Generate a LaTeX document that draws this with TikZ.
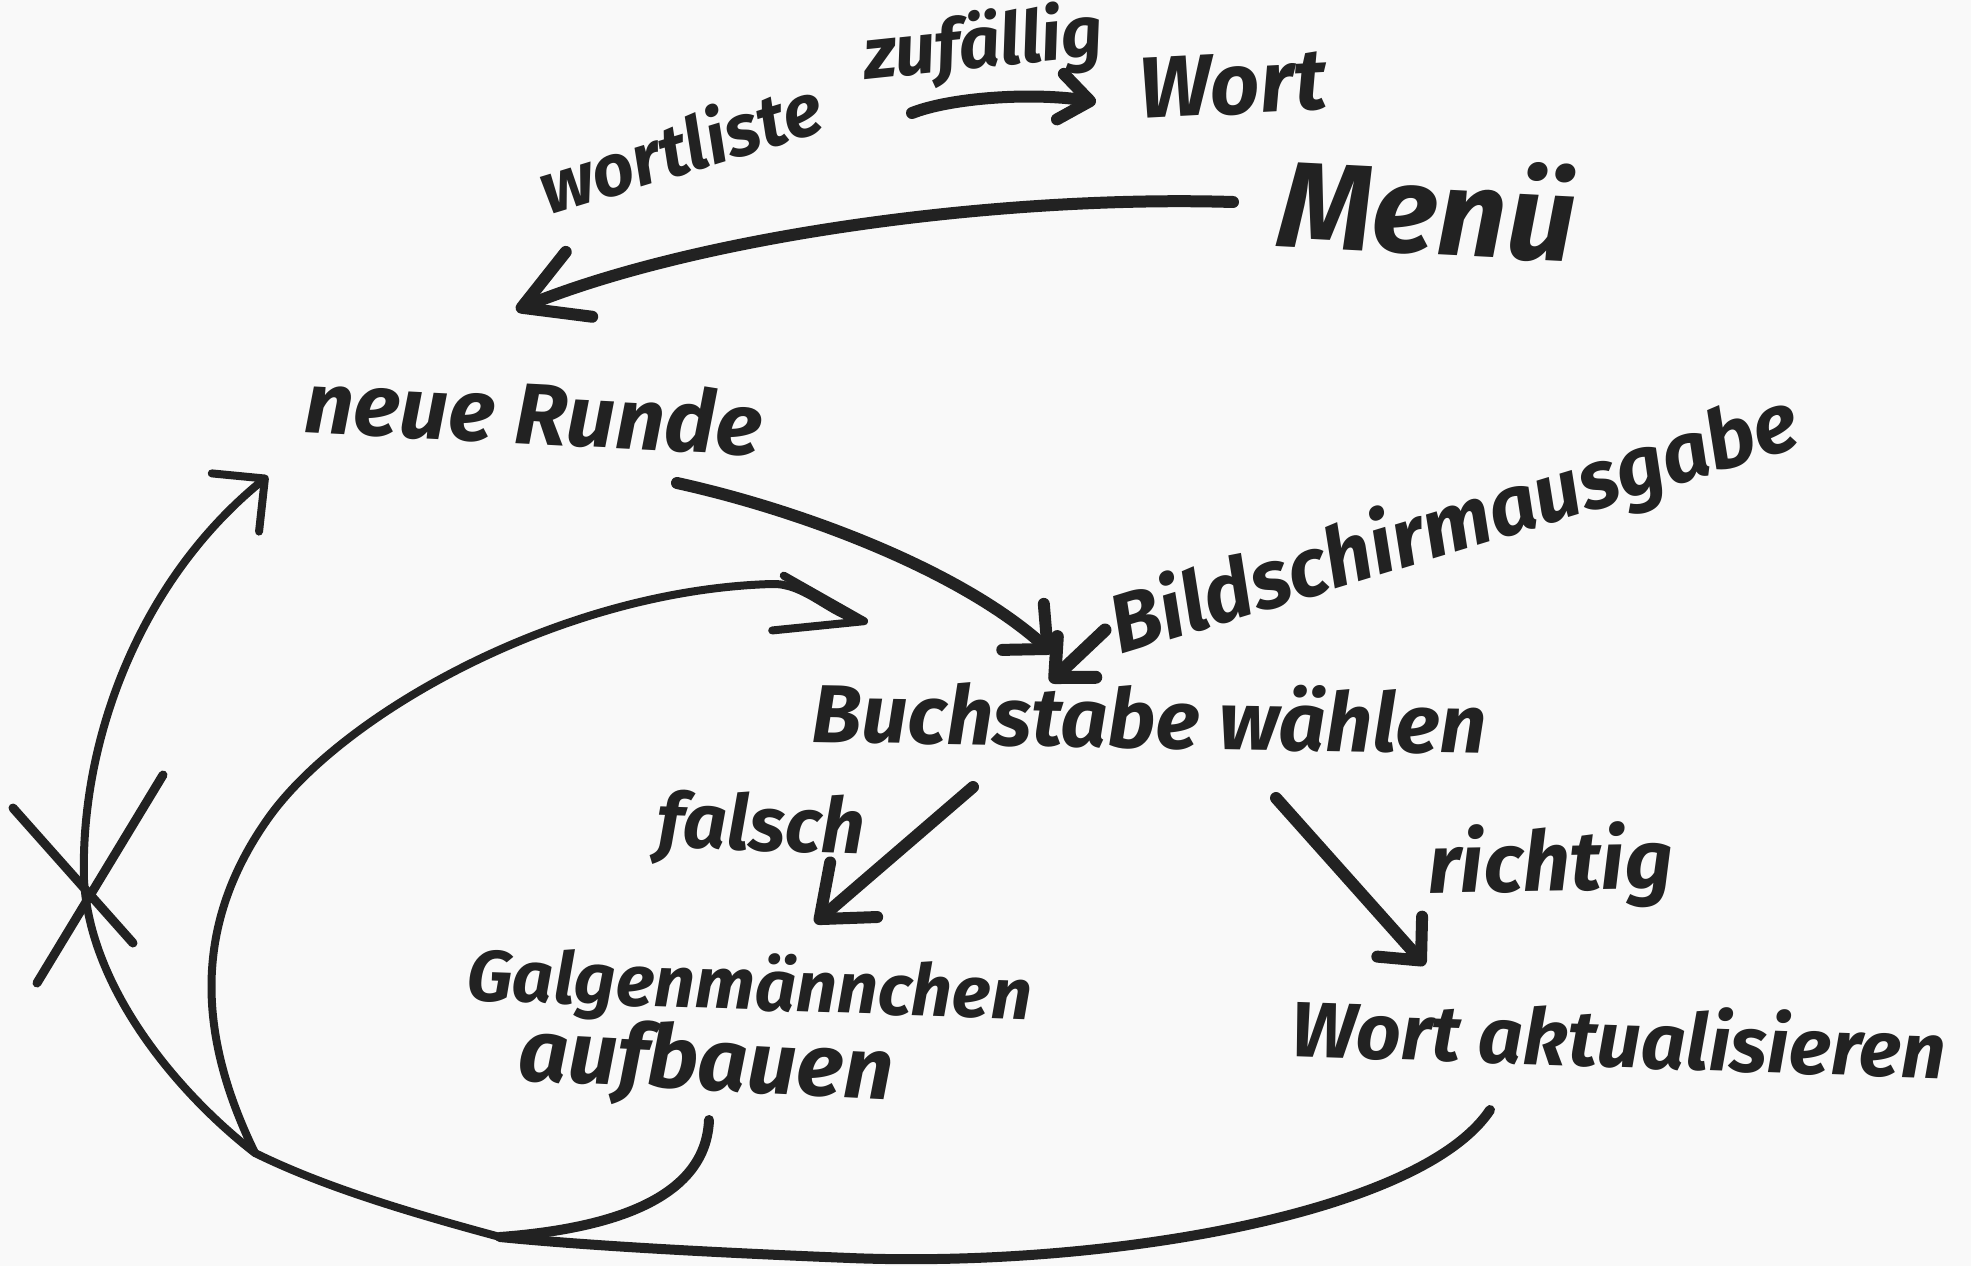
\documentclass[tikz,border=0pt]{standalone}
\usepackage{fontspec}
\setmainfont{Fira Sans}
\usetikzlibrary{arrows.meta}
\definecolor{ink}{RGB}{34,34,34}
\definecolor{paper}{RGB}{249,249,249}
% marker-style word, stretched to a given width (pt)
\newcommand{\hw}[2]{\resizebox{#1pt}{!}{\bfseries\itshape #2}}

\begin{document}
\begin{tikzpicture}[x=1pt,y=-1pt,
  hand/.style={anchor=base west, inner sep=0pt, text=ink},
  link/.style={draw=ink, line width=12pt, line cap=round, line join=round},
  loopline/.style={draw=ink, line width=8pt, line cap=round, line join=round},
  barb/.style 2 args={-{Straight Barb[length=#1pt,width=#2pt,round]}},
]
\fill[paper] (0,0) rectangle (1971,1266);
\useasboundingbox (0,0) rectangle (1971,1266);

% ---- words ----
\node[hand, rotate=17] (wl) at (548,216) {\hw{292}{wortliste}};
\node[hand, rotate=6]  (zf) at (866,80)  {\hw{240}{zufällig}};
\node[hand, rotate=3]  (wt) at (1140,119) {\hw{188}{Wort}};
\node[hand, rotate=-3] (mn) at (1276,246) {\hw{298}{Menü}};
\node[hand, rotate=-3] (nr) at (303,432) {\hw{458}{neue Runde}};
\node[hand, rotate=17] (bs) at (1120,655) {\hw{715}{Bildschirmausgabe}};
\node[hand, rotate=-1] (bw) at (811,742) {\hw{675}{Buchstabe wählen}};
\node[hand, rotate=-2] (fa) at (656,847) {\hw{208}{falsch}};
\node[hand, rotate=-2] (gm1) at (466,1000) {\hw{565}{Galgenmännchen}};
\node[hand, rotate=-3] (gm2) at (517,1080) {\hw{375}{aufbauen}};
\node[hand, rotate=1]  (ri) at (1428,893) {\hw{245}{richtig}};
\node[hand, rotate=-2] (wa) at (1290,1056) {\hw{655}{Wort aktualisieren}};

% ---- connector ends ----
\coordinate (wlOut) at (912,113);
\coordinate (wtIn) at (1096,102);
\coordinate (mnOut) at (1233,202);
\coordinate (nrIn) at (516,310);
\coordinate (nrOut) at (677,483);
\coordinate (bwInA) at (1052,653);
\coordinate (bsOut) at (1105,630);
\coordinate (bwInB) at (1050,682);
\coordinate (bwOutL) at (973,787);
\coordinate (gmIn) at (815,923);
\coordinate (bwOutR) at (1276,798);
\coordinate (waIn) at (1425,965);
\coordinate (gmOut) at (709,1120);
\coordinate (waOut) at (1490,1110);
\coordinate (join) at (500,1237);
\coordinate (split) at (255,1153);
\coordinate (bend) at (84,880);
\coordinate (turn) at (267,820);
\coordinate (top) at (772,584);
\coordinate (nrBack) at (268,476);
\coordinate (bwBack) at (868,622);

% ---- arrows ----
\draw[link, barb={30}{46}] (wlOut) .. controls (950,98) and (1030,92) .. (wtIn);
\draw[link, barb={62}{70}] (mnOut) .. controls (1000,195) and (700,235) .. (nrIn);
\draw[link, barb={33}{62}] (nrOut) .. controls (800,510) and (960,570) .. (bwInA);
\draw[link, line width=13pt, barb={30}{56}] (bsOut) -- (bwInB);
\draw[link, barb={45}{72}] (bwOutL) -- (gmIn);
\draw[link, barb={32}{60}] (bwOutR) -- (waIn);

% ---- return loop ----
\draw[loopline, line width=10pt] (gmOut) .. controls (706,1195) and (620,1228) .. (join);
\draw[loopline, line width=10pt] (waOut) .. controls (1420,1215) and (1100,1268) .. (850,1258)
      .. controls (700,1252) and (580,1245) .. (join);
\draw[loopline, barb={38}{75}] (join) .. controls (400,1210) and (320,1185) .. (split)
      .. controls (180,1095) and (90,990) .. (bend)
      .. controls (80,740) and (140,580) .. (nrBack);
\draw[loopline, barb={88}{56}] (split) .. controls (200,1040) and (190,930) .. (turn)
      .. controls (340,715) and (560,590) .. (top)
      .. controls (805,583) and (830,614) .. (bwBack);

% ---- cross-out on the outer return ----
\draw[loopline, line width=9pt] (13,808) -- (133,943);
\draw[loopline, line width=9pt] (37,983) -- (163,775);
\end{tikzpicture}
\end{document}
